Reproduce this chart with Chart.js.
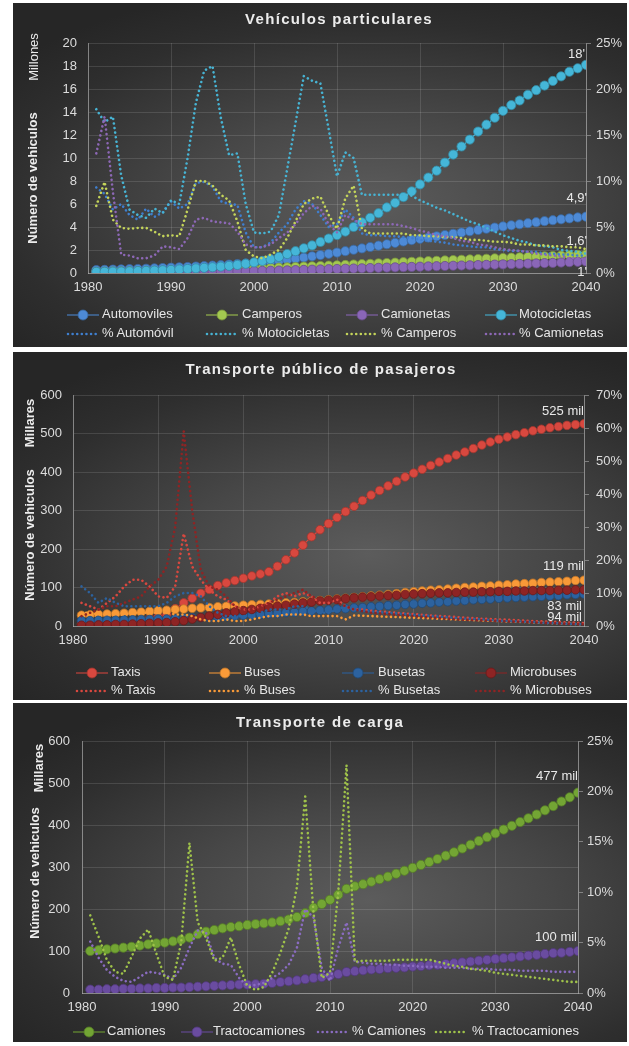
<!DOCTYPE html>
<html><head><meta charset="utf-8">
<script src="https://cdn.jsdelivr.net/npm/chart.js@4.4.1/dist/chart.umd.min.js"></script>
<style>
html,body{margin:0;padding:0;background:#fff;}
body{width:629px;height:1046px;position:relative;overflow:hidden;font-family:"Liberation Sans",Arial,sans-serif;}
.panel{position:absolute;left:13px;width:614px;background:radial-gradient(ellipse 75% 65% at 58% 58%, #5c5c5c 0%, #474747 40%, #2e2e2e 80%, #262626 100%);}
.wrap{position:absolute;left:0;width:629px;}
.title{position:absolute;transform:translate(-50%,-50%);font-weight:bold;font-size:15px;letter-spacing:1.3px;color:#ececec;white-space:nowrap;}
.vt{position:absolute;transform:translate(-50%,-50%) rotate(-90deg);font-size:13px;color:#ececec;white-space:nowrap;}
.lg{position:absolute;font-size:13px;color:#e6e6e6;white-space:nowrap;transform:translateY(-50%);line-height:15px;}
.mk{position:absolute;transform:translateY(-50%);}
</style>
</head><body>
<div class="panel" style="top:3px;height:344px;"></div>
<div class="panel" style="top:352px;height:348px;"></div>
<div class="panel" style="top:703px;height:339px;"></div>
<div class="wrap" style="top:0;height:350px;"><canvas id="c1" width="629" height="350"></canvas></div>
<div class="wrap" style="top:350px;height:350px;"><canvas id="c2" width="629" height="350"></canvas></div>
<div class="wrap" style="top:700px;height:346px;"><canvas id="c3" width="629" height="346"></canvas></div>
<div id="overlay"></div>
<script>
// ---------- DATA ----------
const years = [1981,1982,1983,1984,1985,1986,1987,1988,1989,1990,1991,1992,1993,1994,1995,1996,1997,1998,1999,2000,
2001,2002,2003,2004,2005,2006,2007,2008,2009,2010,2011,2012,2013,2014,2015,2016,2017,2018,2019,2020,
2021,2022,2023,2024,2025,2026,2027,2028,2029,2030,2031,2032,2033,2034,2035,2036,2037,2038,2039,2040];
const xTicks = [1980,1990,2000,2010,2020,2030,2040];

// Panel 1: Vehículos particulares (millones) and shares (%)
const automoviles = [0.25,0.27,0.29,0.31,0.33,0.35,0.37,0.40,0.43,0.46,0.49,0.52,0.56,0.60,0.64,0.68,0.73,0.78,0.83,0.88,
0.94,1.00,1.07,1.15,1.24,1.34,1.45,1.56,1.67,1.78,1.90,2.02,2.14,2.26,2.38,2.50,2.62,2.74,2.86,2.97,
3.08,3.19,3.30,3.41,3.52,3.63,3.74,3.85,3.95,4.05,4.15,4.24,4.33,4.42,4.51,4.59,4.67,4.75,4.83,4.90];
const camperos = [0.10,0.11,0.12,0.13,0.14,0.15,0.16,0.17,0.18,0.20,0.21,0.23,0.25,0.27,0.29,0.31,0.33,0.35,0.37,0.39,
0.41,0.43,0.46,0.49,0.52,0.55,0.58,0.61,0.64,0.67,0.70,0.74,0.77,0.80,0.84,0.87,0.90,0.94,0.97,1.00,
1.03,1.06,1.09,1.12,1.15,1.18,1.21,1.24,1.27,1.30,1.33,1.36,1.39,1.42,1.45,1.48,1.51,1.54,1.57,1.60];
const camionetas = [0.05,0.05,0.06,0.06,0.07,0.07,0.08,0.08,0.09,0.09,0.10,0.10,0.11,0.12,0.13,0.14,0.15,0.16,0.17,0.18,
0.19,0.20,0.21,0.23,0.25,0.27,0.29,0.31,0.33,0.35,0.37,0.39,0.41,0.43,0.45,0.47,0.49,0.51,0.53,0.55,
0.57,0.59,0.61,0.63,0.65,0.67,0.69,0.71,0.73,0.75,0.77,0.79,0.81,0.83,0.86,0.88,0.91,0.94,0.97,1.00];
const motocicletas = [0.10,0.11,0.12,0.13,0.15,0.17,0.19,0.21,0.24,0.27,0.31,0.35,0.40,0.45,0.50,0.56,0.62,0.70,0.80,0.92,
1.05,1.20,1.40,1.65,1.90,2.15,2.40,2.70,3.00,3.30,3.60,4.00,4.40,4.80,5.20,5.70,6.10,6.60,7.10,7.70,
8.30,8.90,9.60,10.30,11.00,11.60,12.30,12.90,13.50,14.10,14.60,15.00,15.50,15.90,16.30,16.70,17.10,17.50,17.80,18.10];
const pctAutomovil = [9.3,8.6,6.9,7.5,6.3,5.8,7.0,6.1,6.6,7.8,7.0,7.5,9.8,9.9,9.4,7.8,7.5,7.4,4.4,2.8,
2.8,3.3,4.4,5.3,6.9,7.8,7.5,6.3,5.0,5.3,6.9,6.0,4.3,4.1,4.1,4.0,4.0,3.9,3.8,3.6,
3.5,3.4,3.3,3.1,3.0,2.9,2.8,2.8,2.6,2.5,2.4,2.4,2.3,2.3,2.1,2.1,2.0,2.0,1.9,1.9];
const pctMotocicletas = [17.8,16.4,17.0,10.6,6.9,6.3,6.0,7.0,6.5,7.9,7.5,12.5,18.5,22.0,22.5,16.9,12.8,13.0,7.5,4.4,
4.3,4.5,6.3,11.3,16.3,21.4,20.9,20.6,15.6,10.5,13.1,12.5,8.5,8.5,8.5,8.5,8.5,8.5,8.4,7.9,
7.5,7.1,6.8,6.4,6.0,5.6,5.3,4.9,4.5,4.1,3.8,3.5,3.3,3.0,2.9,2.8,2.5,2.4,2.3,2.1];
const pctCamperos = [7.3,9.9,5.8,4.9,4.8,4.9,4.9,4.5,4.0,4.1,4.0,6.9,10.0,10.0,9.5,8.5,7.9,5.6,2.5,1.8,
1.6,2.0,2.5,3.8,5.6,7.5,8.1,8.3,6.3,4.8,8.1,9.5,4.8,4.3,4.3,4.3,4.3,4.3,4.1,4.1,
4.0,4.0,3.9,3.9,3.8,3.6,3.6,3.5,3.4,3.4,3.3,3.1,3.1,3.0,3.0,2.9,2.9,2.8,2.8,2.6];
const pctCamionetas = [13.0,17.0,8.8,2.0,1.9,1.6,1.6,1.9,2.9,2.8,2.6,3.8,5.8,6.0,5.6,5.5,5.4,4.5,3.1,2.8,
2.8,3.1,3.8,4.4,5.3,6.5,7.3,7.0,5.3,4.4,6.3,5.8,5.3,5.3,5.3,5.3,5.3,5.1,4.9,4.6,
4.4,4.1,4.0,3.8,3.5,3.4,3.1,3.0,2.8,2.6,2.5,2.4,2.3,2.1,2.0,1.9,1.8,1.6,1.6,1.5];

// Panel 2: Transporte público de pasajeros (miles) and shares (%)
const taxis = [5,6,7,8,10,12,14,16,19,23,30,45,60,72,85,95,105,112,118,124,
130,135,141,155,172,190,210,232,250,266,282,297,311,326,340,352,364,376,387,397,
407,417,426,435,444,452,461,470,478,485,491,497,502,507,511,515,518,521,523,525];
const buses = [28,29,30,31,32,33,35,36,38,40,41,43,44,46,47,48,50,51,52,54,
55,56,57,58,60,61,63,64,66,68,70,72,74,76,78,80,82,84,87,89,
91,93,94,96,98,100,101,103,104,106,107,109,110,111,113,114,115,116,118,119];
const busetas = [14,14,15,15,15,16,16,17,17,18,18,19,20,21,22,23,24,25,26,28,
29,30,32,33,35,36,38,39,41,42,44,45,47,48,50,51,53,54,56,57,
59,60,62,63,65,66,68,69,70,72,73,74,75,76,77,78,79,81,82,83];
const microbuses = [2,2,3,3,4,4,5,6,7,8,9,11,14,18,22,26,30,34,37,40,
43,46,49,52,54,57,60,62,65,67,69,71,73,75,76,78,79,80,82,83,
84,85,86,86,87,88,88,89,89,90,90,91,91,92,92,92,93,93,94,94];
const pctTaxis = [7,6,5,7,9,12,14,14,12,9,8.5,12,28,18,14,11,9,8,6,5,
5,6,7,9,10,9,10,9,7,7,8,6,5,5,4.6,4.4,4.2,4,3.8,3.6,
3.4,3.2,3.0,2.9,2.7,2.5,2.4,2.2,2.1,2.0,1.9,1.8,1.6,1.5,1.4,1.3,1.2,1.1,1.0,0.9];
const pctBuses = [4,4,3.5,3.5,3.5,3.5,4,4,4,4,4,3.5,3.5,3,2,1.5,1.5,2,1.5,1.5,
2,2.5,3,3,3.5,3.5,3.5,3,3,3,3,2,3.2,3.1,3.0,2.9,2.8,2.7,2.6,2.5,
2.4,2.3,2.2,2.1,2.0,1.9,1.8,1.7,1.6,1.5,1.4,1.3,1.2,1.1,1.0,0.9,0.8,0.7,0.6,0.5];
const pctBusetas = [12,10,7,8.5,7,6,6,6,6,6,7,9,10,10,9,6,4,3,3,3,
3,4,5,5,5,6,6,5,4,4,5,6,5,4.6,4.4,4.2,4.0,3.8,3.6,3.4,
3.2,3.0,2.8,2.6,2.4,2.2,2.1,2.0,1.8,1.6,1.5,1.4,1.3,1.2,1.0,0.9,0.8,0.7,0.6,0.5];
const pctMicrobuses = [3,4,5,6,6,7,8,9,12,14,18,30,59,35,17,12,11,9,6,5,
5,6,7,8,9,10,11,9,8,8,7,6,5,4.5,4,3.8,3.6,3.4,3.2,3.0,
2.8,2.6,2.4,2.2,2.0,1.9,1.8,1.7,1.6,1.5,1.4,1.3,1.2,1.1,1.0,0.9,0.8,0.7,0.6,0.5];

// Panel 3: Transporte de carga (miles) and shares (%)
const camiones = [100,102,104,106,108,110,113,116,118,120,123,127,132,140,146,150,154,157,159,162,
164,166,168,171,175,181,190,203,212,222,234,248,254,259,265,271,277,284,291,298,
305,312,319,327,335,344,353,362,371,380,389,398,407,416,425,435,445,456,466,477];
const tractocamiones = [8,8,9,9,10,10,11,11,12,12,13,13,14,15,16,17,18,19,20,20,
21,22,24,26,28,30,33,36,38,41,45,50,52,54,56,57,59,60,61,63,
64,66,67,69,71,73,75,77,79,81,83,85,87,89,91,93,95,96,98,100];
const pctCamiones = [5.1,3.5,2.3,1.6,1.2,1.1,1.6,2.1,2.0,1.8,1.4,2.5,4.5,6.2,6.0,3.5,2.9,2.8,1.5,0.7,
0.8,1.0,1.5,2.0,2.8,4.5,8.3,7.5,2.5,1.2,4.5,7.0,3.1,3.0,2.9,2.9,2.8,2.8,2.7,2.7,
2.6,2.6,2.6,2.5,2.5,2.5,2.4,2.4,2.4,2.3,2.3,2.3,2.2,2.2,2.2,2.2,2.1,2.1,2.1,2.1];
const pctTractocamiones = [7.7,5.6,3.3,2.1,1.9,3.6,5.4,6.3,3.9,1.6,1.3,5.0,14.9,7.0,5.5,3.2,3.5,5.5,2.8,0.7,
0.3,0.6,2.0,4.0,6.4,10.5,19.5,8.0,1.5,2.0,10.0,22.6,3.1,3.2,3.2,3.2,3.2,3.3,3.3,3.3,
3.3,3.3,3.1,2.9,2.7,2.6,2.4,2.3,2.2,2.0,1.9,1.8,1.7,1.6,1.5,1.4,1.3,1.2,1.1,1.1];

// ---------- STYLE ----------
Chart.defaults.font.family = "'Liberation Sans', Arial, sans-serif";
Chart.defaults.font.size = 13;
const TC = '#dcdcdc', GRID = 'rgba(255,255,255,0.12)', AX = 'rgba(210,210,210,0.45)';
const C = {
  auto:'#4d8ad6', camp:'#a3c850', cmta:'#8a66b8', moto:'#45b6d8',
  pAuto:'#3f7fcf', pMoto:'#47b3d3', pCamp:'#c4d45a', pCmta:'#8d68b6',
  taxi:'#d8483f', bus:'#f99a38', buseta:'#2c629f', micro:'#8e2424',
  cam:'#73a534', tracto:'#6a4ca0', pCam:'#8a6cc0', pTracto:'#9fc24a'
};
function pts(vals){ return vals.map((v,i)=>({x:years[i], y:v})); }
function shade(hex, f){ const n=parseInt(hex.slice(1),16); const r=Math.round(((n>>16)&255)*f), g=Math.round(((n>>8)&255)*f), b=Math.round((n&255)*f); return 'rgb('+r+','+g+','+b+')'; }
function pointSet(label, vals, color, order, r, endLabel){
  return {label, data:pts(vals), yAxisID:'y', borderColor:color, borderWidth:1.2, backgroundColor:color,
    pointRadius:r, pointBackgroundColor:color, pointBorderColor:shade(color,0.75), pointBorderWidth:0.8,
    order, endLabel};
}
function dotSet(label, vals, color, order){
  return {label, data:pts(vals), yAxisID:'y1', borderColor:color, borderWidth:2.6, borderDash:[0.01,4.6],
    borderCapStyle:'round', pointRadius:0, order, fill:false};
}
const endLabels = { id:'endLabels', afterDatasetsDraw(chart){
  const ctx = chart.ctx;
  chart.data.datasets.forEach((ds,i)=>{
    if(!ds.endLabel) return;
    const meta = chart.getDatasetMeta(i); const p = meta.data[meta.data.length-1];
    ctx.save(); ctx.font = "13px 'Liberation Sans', Arial, sans-serif"; ctx.fillStyle = '#e8e8e8';
    ctx.textAlign = 'right'; ctx.textBaseline = 'middle';
    ctx.fillText(ds.endLabel.text, p.x + ds.endLabel.dx, p.y + ds.endLabel.dy); ctx.restore();
  });
}};
function scales(o){
  return {
    x:{type:'linear', min:1980, max:2040, afterBuildTicks:s=>{s.ticks = xTicks.map(v=>({value:v}));},
       ticks:{color:TC, padding:o.xpad, callback:v=>String(v), maxRotation:0},
       grid:{color:GRID, drawTicks:false}, border:{color:AX}, afterFit:s=>{s.height=30;}},
    y:{position:'left', min:0, max:o.ymax, ticks:{stepSize:o.ystep, color:TC, padding:o.ypad},
       grid:{color:GRID, drawTicks:false}, border:{color:AX}, afterFit:s=>{s.width=40;}},
    y1:{position:'right', min:0, max:o.pmax, ticks:{stepSize:o.pstep, color:TC, padding:o.ppad, callback:v=>v+'%'},
       grid:{drawOnChartArea:false, color:AX, tickLength:5}, border:{color:AX}, afterFit:s=>{s.width=40;}}
  };
}
function makeChart(id, datasets, pad, sc){
  return new Chart(document.getElementById(id), {
    type:'line', data:{datasets},
    options:{responsive:false, animation:false, events:[],
      layout:{padding:pad},
      plugins:{legend:{display:false}, title:{display:false}, tooltip:{enabled:false}},
      scales:scales(sc)},
    plugins:[endLabels]
  });
}

makeChart('c1', [
  pointSet('Automoviles', automoviles, C.auto, 8, 4.6, {text:"4,9'", dx:1, dy:-18}),
  pointSet('Camperos', camperos, C.camp, 7, 4.6, {text:"1,6'", dx:1, dy:-13}),
  pointSet('Camionetas', camionetas, C.cmta, 6, 4.6, {text:"1'", dx:1, dy:11}),
  pointSet('Motocicletas', motocicletas, C.moto, 5, 4.6, {text:"18'", dx:-1, dy:-10}),
  dotSet('% Automóvil', pctAutomovil, C.pAuto, 4),
  dotSet('% Motocicletas', pctMotocicletas, C.pMoto, 3),
  dotSet('% Camperos', pctCamperos, C.pCamp, 2),
  dotSet('% Camionetas', pctCamionetas, C.pCmta, 1)
], {left:48, right:3, top:43, bottom:47}, {ymax:20, ystep:2, pmax:25, pstep:5, xpad:7, ypad:11, ppad:5});

makeChart('c2', [
  pointSet('Taxis', taxis, C.taxi, 8, 4.3, {text:'525 mil', dx:0, dy:-12}),
  pointSet('Buses', buses, C.bus, 7, 4.3, {text:'119 mil', dx:0, dy:-14}),
  pointSet('Busetas', busetas, C.buseta, 6, 4.3, {text:'83 mil', dx:-2, dy:12}),
  pointSet('Microbuses', microbuses, C.micro, 5, 4.3, {text:'94 mil', dx:-2, dy:28}),
  dotSet('% Taxis', pctTaxis, C.taxi, 4),
  dotSet('% Buses', pctBuses, C.bus, 3),
  dotSet('% Busetas', pctBusetas, C.buseta, 2),
  dotSet('% Microbuses', pctMicrobuses, C.micro, 1)
], {left:33, right:5, top:45, bottom:44}, {ymax:600, ystep:100, pmax:70, pstep:10, xpad:7, ypad:11, ppad:7});

makeChart('c3', [
  pointSet('Camiones', camiones, C.cam, 4, 4.6, {text:'477 mil', dx:0, dy:-16}),
  pointSet('Tractocamiones', tractocamiones, C.tracto, 3, 4.6, {text:'100 mil', dx:-1, dy:-14}),
  dotSet('% Camiones', pctCamiones, C.pCam, 2),
  dotSet('% Tractocamiones', pctTractocamiones, C.pTracto, 1)
], {left:42, right:11, top:41, bottom:23}, {ymax:600, ystep:100, pmax:25, pstep:5, xpad:7, ypad:12, ppad:4});

// ---------- HTML text: titles, axis titles, legends ----------
const ov = document.getElementById('overlay');
function add(html){ ov.insertAdjacentHTML('beforeend', html); }
function title(t, x, y){ add(`<div class="title" style="left:${x}px;top:${y}px">${t}</div>`); }
function vt(t, x, y, bold){ add(`<div class="vt" style="left:${x}px;top:${y}px;font-weight:${bold?'bold':'normal'}">${t}</div>`); }
function marker(type, color, x, y){
  let svg;
  if(type==='point'){
    svg = `<svg width="34" height="12"><line x1="1" y1="6" x2="33" y2="6" stroke="${color}" stroke-width="1.3" opacity="0.8"/><circle cx="17" cy="6" r="5" fill="${color}" stroke="${shade(color,0.75)}" stroke-width="0.8"/></svg>`;
  } else {
    svg = `<svg width="34" height="12"><line x1="2" y1="6" x2="32" y2="6" stroke="${color}" stroke-width="2.6" stroke-linecap="round" stroke-dasharray="0.01 4.6"/></svg>`;
  }
  add(`<div class="mk" style="left:${x}px;top:${y}px;height:12px">${svg}</div>`);
}
function legendItem(type, color, text, mx, tx, y){ marker(type, color, mx, y); add(`<div class="lg" style="left:${tx}px;top:${y}px">${text}</div>`); }

title('Vehículos particulares', 339, 18);
title('Transporte público de pasajeros', 321, 368);
title('Transporte de carga', 320, 721);

vt('Millones', 33, 57, false);
vt('Número de vehiculos', 32, 178, true);
vt('Millares', 29, 423, true);
vt('Número de vehiculos', 29, 535, true);
vt('Millares', 38, 768, true);
vt('Número de vehiculos', 34, 873, true);

legendItem('point', C.auto, 'Automoviles', 66, 102, 312.5);
legendItem('point', C.camp, 'Camperos', 205, 242, 312.5);
legendItem('point', C.cmta, 'Camionetas', 345, 381, 312.5);
legendItem('point', C.moto, 'Motocicletas', 484, 519, 312.5);
legendItem('dot', C.pAuto, '% Automóvil', 66, 102, 331.5);
legendItem('dot', C.pMoto, '% Motocicletas', 205, 242, 331.5);
legendItem('dot', C.pCamp, '% Camperos', 345, 381, 331.5);
legendItem('dot', C.pCmta, '% Camionetas', 484, 519, 331.5);

legendItem('point', C.taxi, 'Taxis', 75, 111, 670.7);
legendItem('point', C.bus, 'Buses', 208, 244, 670.7);
legendItem('point', C.buseta, 'Busetas', 341, 378, 670.7);
legendItem('point', C.micro, 'Microbuses', 474, 510, 670.7);
legendItem('dot', C.taxi, '% Taxis', 75, 111, 689);
legendItem('dot', C.bus, '% Buses', 208, 244, 689);
legendItem('dot', C.buseta, '% Busetas', 341, 378, 689);
legendItem('dot', C.micro, '% Microbuses', 474, 510, 689);

legendItem('point', C.cam, 'Camiones', 72, 107, 1030);
legendItem('point', C.tracto, 'Tractocamiones', 180, 213, 1030);
legendItem('dot', C.pCam, '% Camiones', 316, 352, 1030);
legendItem('dot', C.pTracto, '% Tractocamiones', 434, 472, 1030);
</script>
</body></html>
